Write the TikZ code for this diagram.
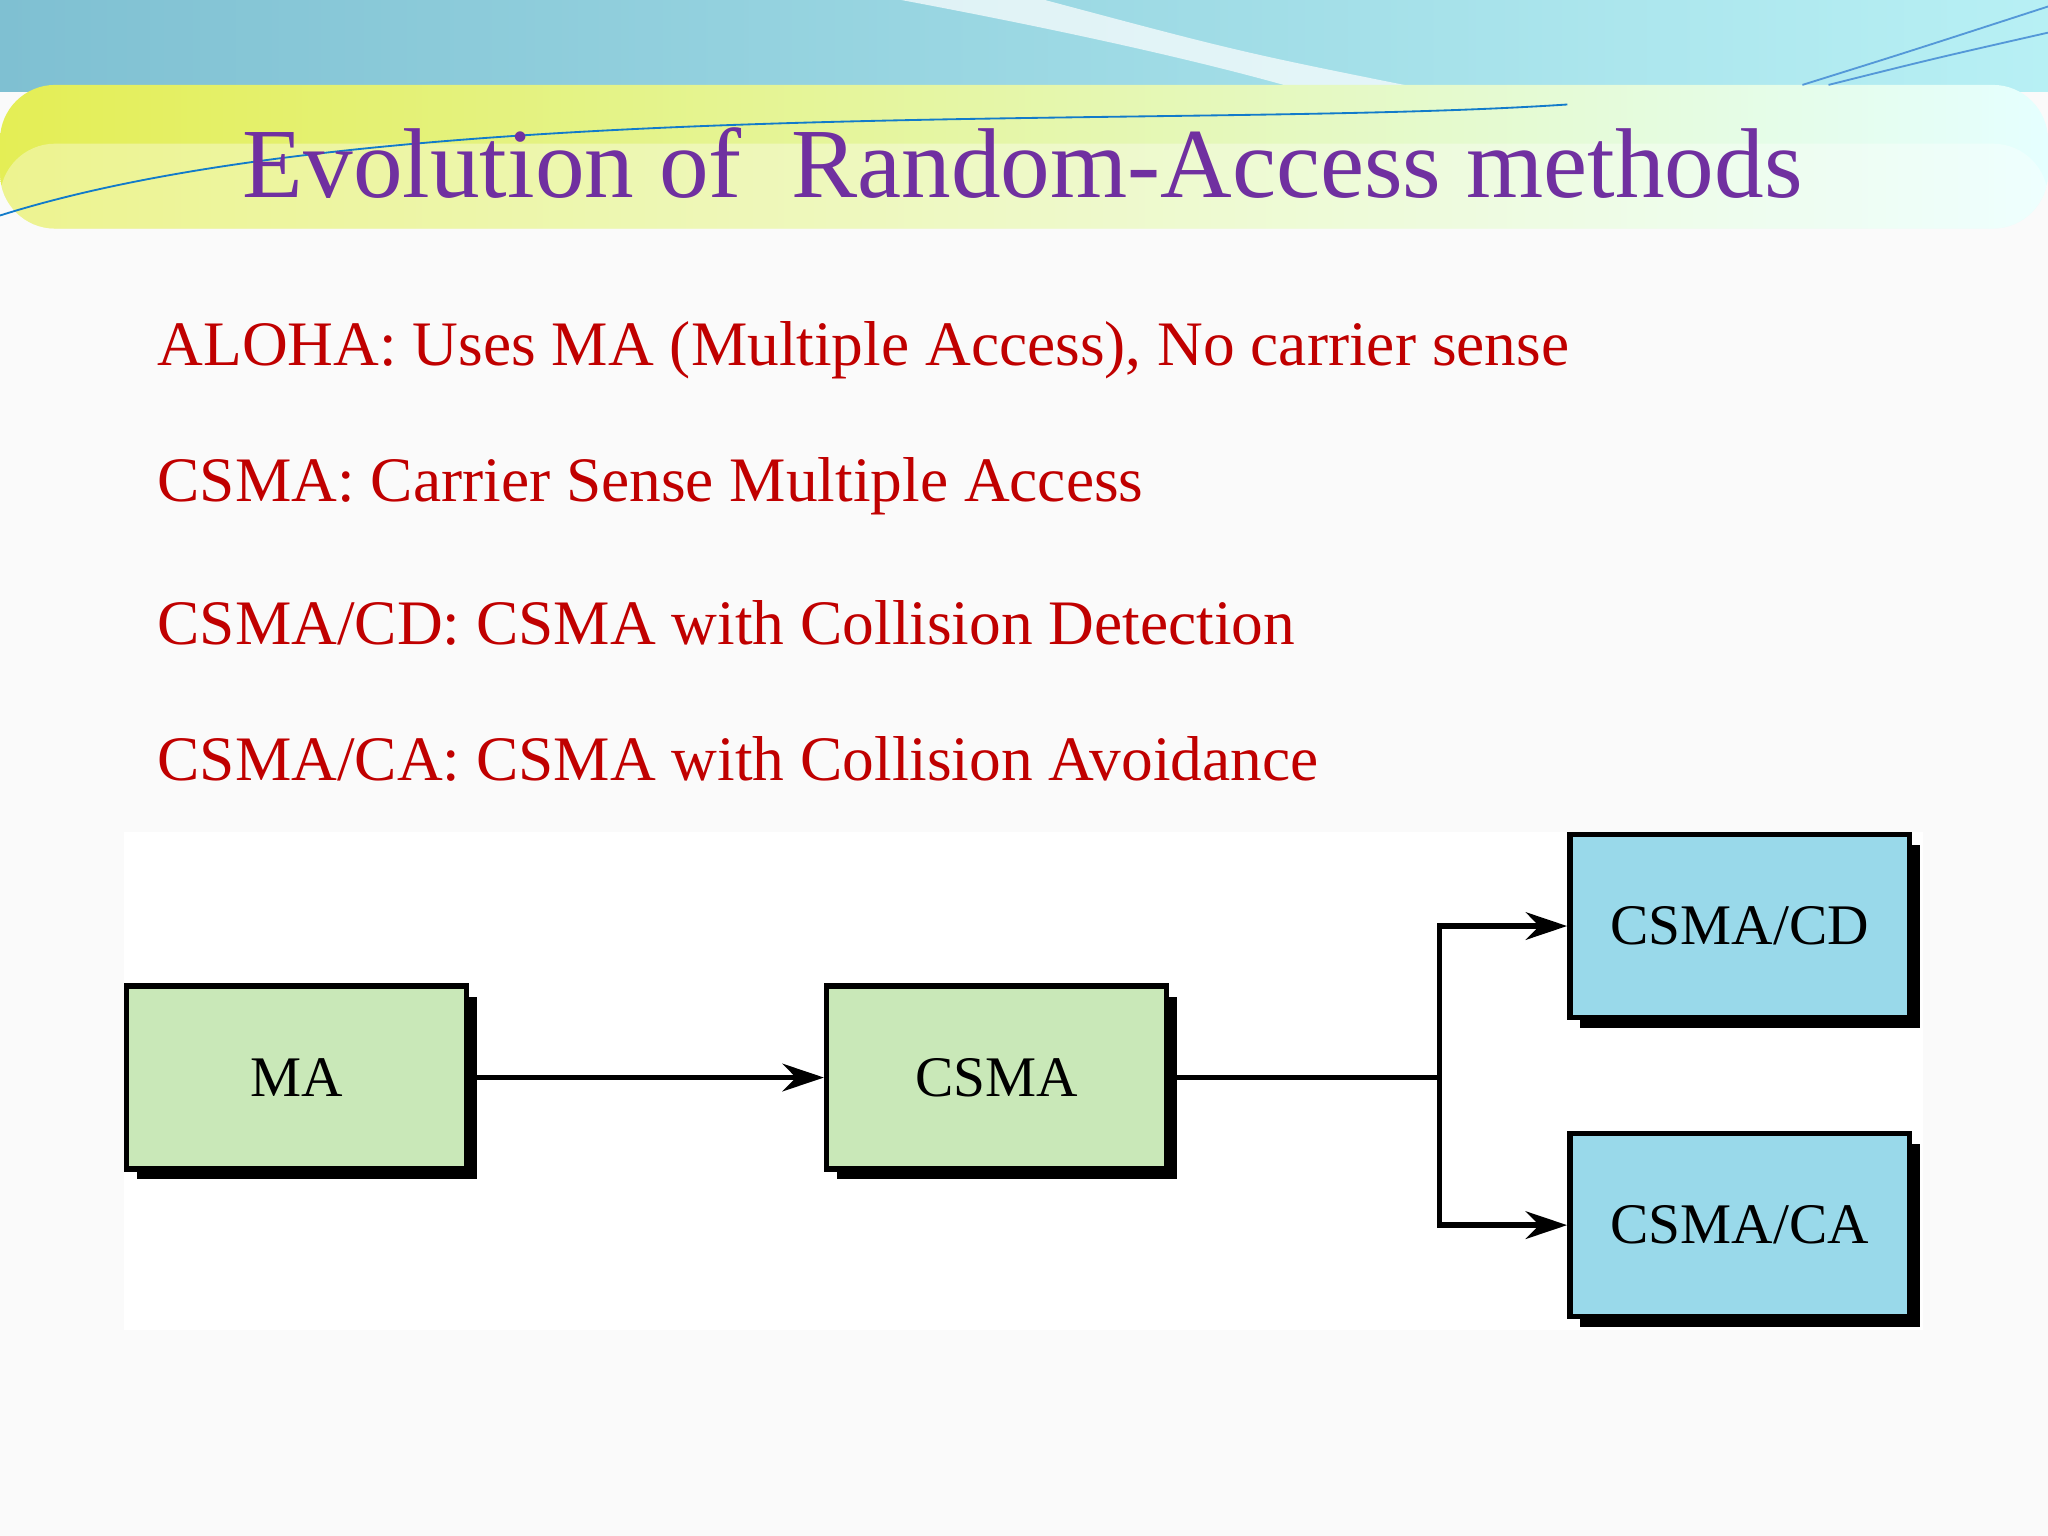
\documentclass[tikz,border=0pt]{standalone}
\usepackage{fontspec}
\setmainfont{Liberation Serif}
\usetikzlibrary{positioning,arrows.meta,shadows}
\definecolor{titlepurple}{HTML}{7030A0}
\definecolor{linered}{HTML}{C00000}
\definecolor{boxgreen}{HTML}{C9E8B8}
\definecolor{boxblue}{HTML}{99D9EA}
\definecolor{skyteal}{HTML}{7FC0D2}
\definecolor{bandyellow}{HTML}{E4EE55}
\tikzset{
  box/.style={draw=black, line width=1.2pt, minimum width=2.6cm, minimum height=1.4cm,
    font=\fontsize{12.5}{14}\selectfont, inner sep=0pt,
    drop shadow={shadow xshift=0.08cm, shadow yshift=-0.08cm, opacity=1, fill=black}},
  flow/.style={line width=1.2pt, -{Stealth[length=9pt,width=6pt]}},
  item/.style={anchor=west, text=linered, font=\fontsize{13.8}{16}\selectfont, inner sep=0pt}
}
\begin{document}
\begin{tikzpicture}[x=0.01cm, y=-0.01cm]

    % page and banner
    \useasboundingbox (0,0) rectangle (1568,1176);
    \fill[gray!4] (0,0) rectangle (1568,1176);
    \shade[left color=skyteal, right color=skyteal!60!cyan!40] (0,0) rectangle (1568,70);
    \fill[white, opacity=.7] (690,0) .. controls (850,30) and (950,55) .. (1000,70) -- (1100,70) .. controls (950,40) .. (800,0) -- cycle;
    \shade[left color=bandyellow, right color=cyan!10, rounded corners=12pt]
        (0,65) rectangle (1568,175);
    \fill[white, opacity=.35, rounded corners=12pt] (0,110) rectangle (1568,175);
    \draw[cyan!60!blue, thin] (0,165) .. controls (300,70) and (900,100) .. (1200,80);
    \draw[cyan!60!blue!70, thin] (1380,65) .. controls (1460,40) .. (1568,5);
    \draw[cyan!60!blue!70, thin] (1400,65) .. controls (1480,45) .. (1568,25);
    \node[text=titlepurple, font=\fontsize{21.6}{25}\selectfont] (title) at (783,125) {Evolution of\ \ Random-Access methods};

    % the four methods
    \node[item] (aloha) at (120,268) {ALOHA: Uses MA (Multiple Access), No carrier sense};
    \node[item] (csmaline) at (120,372) {CSMA: Carrier Sense Multiple Access};
    \node[item] (cdline) at (120,477) {CSMA/CD: CSMA with Collision Detection};
    \node[item] (caline) at (120,581) {CSMA/CA: CSMA with Collision Avoidance};

    % diagram
    \fill[white] (95,637) rectangle (1472,1018);
    \node[box, fill=boxgreen] (ma) at (227,825) {MA};
    \node[box, fill=boxgreen] (csma) at (763,825) {CSMA};
    \node[box, fill=boxblue] (cd) at (1332,709) {CSMA/CD};
    \node[box, fill=boxblue] (ca) at (1332,938) {CSMA/CA};
    \coordinate (split) at (1102,825);

    \draw[flow] (ma) -- (csma);
    \draw[line width=1.2pt] (csma) -- (split);
    \draw[flow] (split) |- (cd);
    \draw[flow] (split) |- (ca);

\end{tikzpicture}
\end{document}
